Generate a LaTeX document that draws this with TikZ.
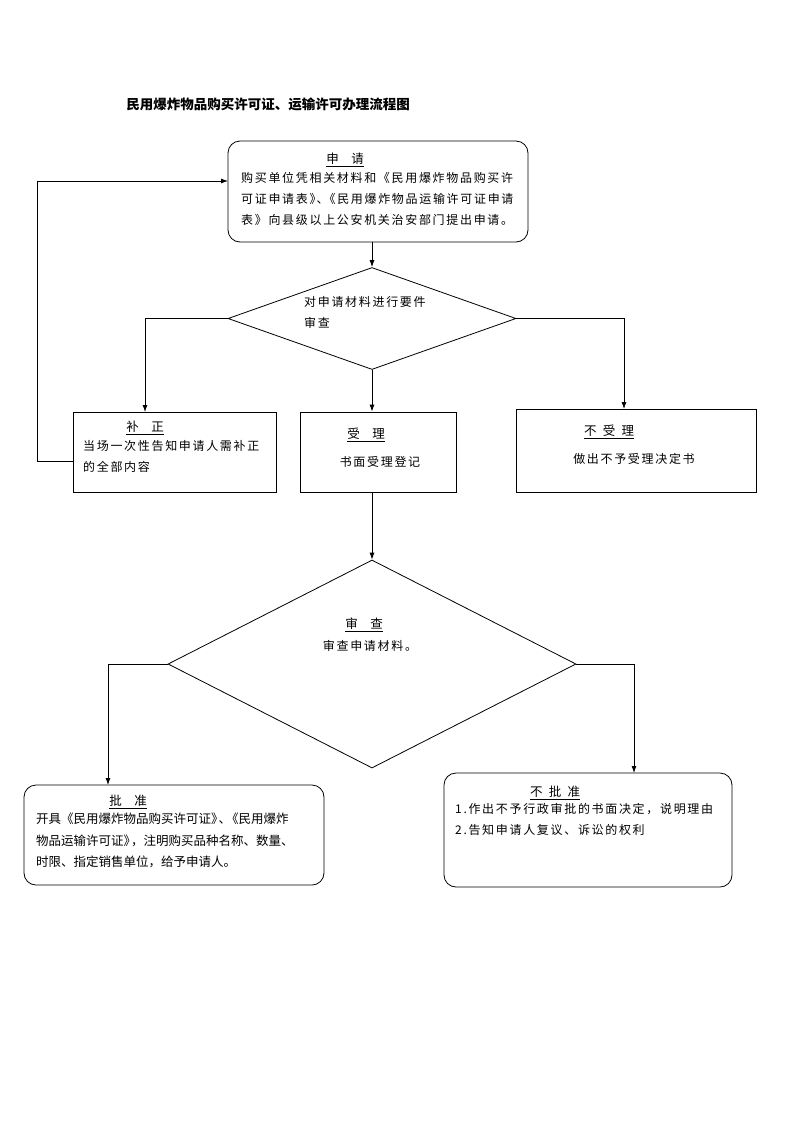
\documentclass[tikz,border=0pt]{standalone}
\usepackage{fontspec}
\setmainfont{Noto Sans CJK SC}
\newfontfamily\cjksp{Noto Sans CJK SC}[LetterSpace=14]
\usetikzlibrary{shapes.geometric,arrows.meta}

\begin{document}
\begin{tikzpicture}[
x=1pt,y=-1pt,
rbox/.style={
  draw,
  rounded corners=12pt,
  line width=0.8pt
},
sbox/.style={
  draw,
  line width=0.8pt
},
dia/.style={
  draw,
  diamond,
  inner sep=0pt,
  line width=0.8pt
},
head/.style={
  font=\fontsize{12.5}{14}\cjksp
},
body/.style={
  font=\fontsize{12}{21}\cjksp,
  align=left,
  inner sep=0pt
},
arr/.style={
  -{Latex[length=7pt,width=5pt]},
  line width=0.8pt
}
]
\useasboundingbox (0,0) rectangle (793,1122);

\node[font=\fontsize{13.5}{16}\selectfont\bfseries] (title) at (268,104)
  {民用爆炸物品购买许可证、运输许可办理流程图};

% boxes
\node[rbox,minimum width=300pt,minimum height=101pt] (apply) at (378,191.5) {};
\node[dia,minimum width=288pt,minimum height=102pt] (check) at (372,318.5) {};
\node[sbox,minimum width=203pt,minimum height=80pt] (fix) at (174.5,452) {};
\node[sbox,minimum width=156pt,minimum height=80pt] (accept) at (378,452) {};
\node[sbox,minimum width=240pt,minimum height=83pt] (reject) at (636,450.5) {};
\node[dia,minimum width=408pt,minimum height=208pt] (review) at (372,664) {};
\node[rbox,minimum width=300pt,minimum height=100pt] (grant) at (174,835) {};
\node[rbox,minimum width=288pt,minimum height=114pt] (deny) at (588,830) {};

% texts
\node[head] (applyh) at (345,160) {\underline{申\quad 请}};
\node[body,anchor=north west] (applyt) at (241,172)
  {购买单位凭相关材料和《民用爆炸物品购买许\\
   可证申请表》\kern-5pt、\kern-5pt《民用爆炸物品运输许可证申请\\
   表》向县级以上公安机关治安部门提出申请。};
\node[body,anchor=north west] (checkt) at (304,296)
  {对申请材料进行要件\\审查};
\node[head] (fixh) at (145,428) {\underline{补\quad 正}};
\node[body,anchor=north west] (fixt) at (83,440)
  {当场一次性告知申请人需补正\\的全部内容};
\node[head] (accepth) at (366,435) {\underline{受\quad 理}};
\node[body] (acceptt) at (380,462) {书面受理登记};
\node[head] (rejecth) at (609,432) {\underline{不\enspace 受\enspace 理}};
\node[body] (rejectt) at (634,459) {做出不予受理决定书};
\node[head] (reviewh) at (364,625) {\underline{审\quad 查}};
\node[body] (reviewt) at (370,646) {审查申请材料。};
\node[head] (granth) at (128,802) {\underline{批\quad 准}};
\node[font=\fontsize{12.5}{21.5}\selectfont,align=left,inner sep=0pt,anchor=north west] (grantt) at (36,813)
  {开具《民用爆炸物品购买许可证》\kern-5pt、\kern-5pt《民用爆炸\\
   物品运输许可证》\kern-5pt，注明购买品种名称、数量、\\
   时限、指定销售单位，给予申请人。};
\node[head] (denyh) at (555,793) {\underline{不\enspace 批\enspace 准}};
\node[body,anchor=north west] (denyt) at (455,803)
  {1.作出不予行政审批的书面决定，说明理由\\2.告知申请人复议、诉讼的权利};

% connectors
\coordinate (fixin) at (145,412);
\coordinate (rejectin) at (624,409);
\coordinate (fixout) at (73,461);
\coordinate (loop) at (37,181);
\coordinate (applyin) at (228,181);
\coordinate (grantin) at (108,785);
\coordinate (denyin) at (634,773);

\draw[arr] (check.north |- apply.south) -- (check.north);
\draw[arr] (check.west) -| (fixin);
\draw[arr] (check.south) -- (check.south |- accept.north);
\draw[arr] (check.east) -| (rejectin);
\draw[arr] (fixout) -| (loop) -- (applyin);
\draw[arr] (review.north |- accept.south) -- (review.north);
\draw[arr] (review.west) -| (grantin);
\draw[arr] (review.east) -| (denyin);
\end{tikzpicture}
\end{document}
